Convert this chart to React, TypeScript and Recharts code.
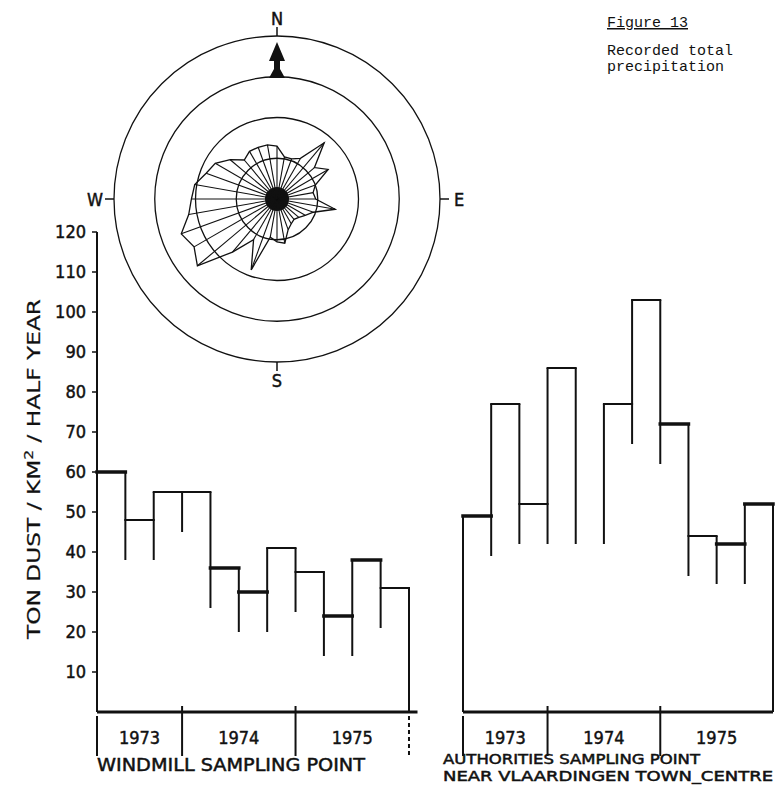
import React from "react";
import {
  ComposedChart,
  Line,
  PolarAngleAxis,
  PolarGrid,
  PolarRadiusAxis,
  Radar,
  RadarChart,
  ReferenceLine,
  XAxis,
  YAxis,
} from "recharts";

// ton dust / km² per half year, one value per quarter (1973 Q2 … 1975 Q4)
const windmillValues = [60, 48, 55, 55, 36, 30, 41, 35, 24, 38, 31];
const authoritiesValues = [49, 77, 52, 86, 52, 77, 103, 72, 44, 42, 52];
const years = ["1973", "1974", "1975"];
const yearStarts = [0, 3, 7];
const quarterCount = 11;
const yTicks = [10, 20, 30, 40, 50, 60, 70, 80, 90, 100, 110, 120];

// wind rose of recorded total precipitation, every 10 degrees from north
const roseBearings = [
  0, 10, 20, 30, 40, 50, 60, 70, 80, 90, 100, 110, 120, 130, 140, 150, 160, 170,
  180, 190, 200, 210, 220, 230, 240, 250, 260, 270, 280, 290, 300, 310, 320, 330, 340, 350,
];
const roseValues = [
  1.3, 1.05, 1.05, 1.15, 1.8, 1.2, 1.45, 1.0, 0.9, 0.95, 1.45, 0.95, 0.8, 0.7, 0.65, 0.7, 0.8, 1.1,
  1.05, 0.95, 1.85, 1.15, 1.7, 2.55, 2.35, 2.5, 2.2, 2.1, 2.05, 1.85, 1.75, 1.5, 1.25, 1.35, 1.35, 1.35,
];
const cardinals: Record<number, string> = { 0: "N", 90: "E", 180: "S", 270: "W" };

const INK = "#111";
const STENCIL = '"DejaVu Sans Condensed", "Liberation Sans Narrow", sans-serif';
const TYPEWRITER = '"Liberation Mono", "Courier New", monospace';
const DROP = 10; // sides of each quarter run 10 units below its top
const ROSE_CX = 200;
const ROSE_CY = 199;

const yearMids = yearStarts.map((s, i) => (s + (yearStarts[i + 1] ?? quarterCount)) / 2);
const roseRows = roseBearings.map((bearing, i) => ({ bearing, r: roseValues[i] }));

const letterStyle = {
  fill: INK,
  stroke: INK,
  strokeWidth: 0.45,
  fontFamily: STENCIL,
  fontSize: 18,
};

function stepLines(values: number[], heavy: number[], hiddenTop: number | null) {
  const out: React.ReactNode[] = [];
  values.forEach((v, i) => {
    if (i === hiddenTop) return;
    out.push(
      <ReferenceLine
        key={`top-${i}`}
        segment={[{ x: i, y: v }, { x: i + 1, y: v }]}
        stroke={INK}
        strokeWidth={heavy.includes(i) ? 3.5 : 2}
        strokeLinecap="square"
        ifOverflow="visible"
      />
    );
  });
  for (let b = 0; b <= values.length; b++) {
    const l = values[b - 1];
    const r = values[b];
    const hi = Math.max(l ?? 0, r ?? 0);
    const lo = l === undefined || r === undefined ? 0 : Math.min(l, r) - DROP;
    out.push(
      <ReferenceLine
        key={`side-${b}`}
        segment={[{ x: b, y: hi }, { x: b, y: lo }]}
        stroke={INK}
        strokeWidth={2}
        ifOverflow="visible"
      />
    );
  }
  return out;
}

function yearSeparators(bounds: number[], dottedAt: number | null) {
  return bounds.map((b) => {
    const edge = b === 0 || b === quarterCount;
    return (
      <ReferenceLine
        key={`sep-${b}`}
        segment={[{ x: b, y: edge ? -1 : 1.5 }, { x: b, y: -11 }]}
        stroke={INK}
        strokeWidth={2}
        strokeDasharray={b === dottedAt ? "4 3" : undefined}
        ifOverflow="visible"
      />
    );
  });
}

function YearTick(props: any) {
  const { x, y, payload, index } = props;
  const i = index ?? yearMids.indexOf(payload?.value);
  return (
    <text x={x} y={y + 32} textAnchor="middle" {...letterStyle}>
      {years[i]}
    </text>
  );
}

function RoseSpoke(props: any) {
  const { cx, cy, index, payload } = props;
  const ox = payload?.cx ?? ROSE_CX;
  const oy = payload?.cy ?? ROSE_CY;
  return (
    <g key={`spoke-${index}`}>
      <line x1={ox} y1={oy} x2={cx} y2={cy} stroke={INK} strokeWidth={1.1} />
      {index === 0 && <circle cx={ox} cy={oy} r={12} fill={INK} />}
    </g>
  );
}

function RoseTick(props: any) {
  const { x, y, payload } = props;
  const label = cardinals[payload?.value];
  if (!label) return <g />;
  const len = Math.hypot(x - ROSE_CX, y - ROSE_CY) || 1;
  const ux = (x - ROSE_CX) / len;
  const uy = (y - ROSE_CY) / len;
  return (
    <g>
      <line
        x1={ROSE_CX + ux * 163}
        y1={ROSE_CY + uy * 163}
        x2={ROSE_CX + ux * 172}
        y2={ROSE_CY + uy * 172}
        stroke={INK}
        strokeWidth={1.5}
      />
      <text
        x={ROSE_CX + ux * 182}
        y={ROSE_CY + uy * 181}
        textAnchor="middle"
        dominantBaseline="central"
        {...letterStyle}
      >
        {label}
      </text>
      {label === "N" && (
        <path
          transform={`translate(${ROSE_CX},${ROSE_CY})`}
          d="M0,-157 L8,-138 L3,-138 L3,-130 L8,-121 L-8,-121 L-3,-130 L-3,-138 L-8,-138 Z"
          fill={INK}
        />
      )}
    </g>
  );
}

function WindRose() {
  return (
    <div style={{ position: "absolute", left: 77, top: 0 }}>
      <RadarChart
        width={400}
        height={400}
        cx={ROSE_CX}
        cy={ROSE_CY}
        outerRadius={163}
        data={roseRows}
        margin={{ top: 0, right: 0, bottom: 0, left: 0 }}
      >
        <PolarGrid gridType="circle" radialLines={false} stroke={INK} strokeWidth={1.3} />
        <PolarRadiusAxis domain={[0, 4]} tickCount={5} tick={false} axisLine={false} />
        <PolarAngleAxis dataKey="bearing" tick={RoseTick} tickLine={false} axisLine={false} />
        <Radar
          dataKey="r"
          stroke={INK}
          strokeWidth={1.3}
          fill="none"
          fillOpacity={0}
          dot={RoseSpoke}
          isAnimationActive={false}
        />
      </RadarChart>
    </div>
  );
}

function WindmillPanel() {
  const rows = windmillValues.map((value, i) => ({ q: i + 0.5, value }));
  return (
    <div style={{ position: "absolute", left: 0, top: 0 }}>
      <ComposedChart
        width={430}
        height={787}
        data={rows}
        margin={{ top: 232, right: 12.5, bottom: 45, left: 37 }}
      >
        <XAxis
          type="number"
          dataKey="q"
          domain={[0, 11.3]}
          ticks={yearMids}
          interval={0}
          tick={YearTick}
          tickLine={false}
          tickSize={0}
          tickMargin={0}
          height={30}
          axisLine={{ stroke: INK, strokeWidth: 3 }}
        />
        <YAxis
          type="number"
          domain={[0, 120]}
          ticks={yTicks}
          interval={0}
          width={60}
          tickSize={5}
          tickMargin={6}
          axisLine={{ stroke: INK, strokeWidth: 2 }}
          tickLine={{ stroke: INK, strokeWidth: 1.5 }}
          tick={letterStyle}
        />
        {/* carries the y scale; the outline itself is drawn by the reference lines */}
        <Line
          dataKey="value"
          stroke="none"
          dot={false}
          activeDot={false}
          legendType="none"
          isAnimationActive={false}
        />
        {stepLines(windmillValues, [0, 4, 5, 8, 9], null)}
        {yearSeparators([...yearStarts, quarterCount], quarterCount)}
      </ComposedChart>
    </div>
  );
}

function AuthoritiesPanel() {
  const rows = authoritiesValues.map((value, i) => ({ q: i + 0.5, value }));
  return (
    <div style={{ position: "absolute", left: 440, top: 0 }}>
      <ComposedChart
        width={335}
        height={787}
        data={rows}
        margin={{ top: 232, right: 2, bottom: 45, left: 23 }}
      >
        <XAxis
          type="number"
          dataKey="q"
          domain={[0, quarterCount]}
          ticks={yearMids}
          interval={0}
          tick={YearTick}
          tickLine={false}
          tickSize={0}
          tickMargin={0}
          height={30}
          axisLine={{ stroke: INK, strokeWidth: 3 }}
        />
        <YAxis type="number" domain={[0, 120]} hide />
        <Line
          dataKey="value"
          stroke="none"
          dot={false}
          activeDot={false}
          legendType="none"
          isAnimationActive={false}
        />
        {/* the 1974 Q2 top was not printed in the source */}
        {stepLines(authoritiesValues, [0, 7, 9, 10], 4)}
        {yearSeparators(yearStarts, null)}
      </ComposedChart>
    </div>
  );
}

function Captions() {
  return (
    <svg
      width={775}
      height={787}
      style={{ position: "absolute", left: 0, top: 0, pointerEvents: "none" }}
    >
      <text x={607} y={27} fontFamily={TYPEWRITER} fontSize={15} fill={INK} textDecoration="underline">
        Figure 13
      </text>
      <text x={607} y={55} fontFamily={TYPEWRITER} fontSize={15} fill={INK}>
        Recorded total
      </text>
      <text x={607} y={71} fontFamily={TYPEWRITER} fontSize={15} fill={INK}>
        precipitation
      </text>
      <text
        transform="translate(40,469) rotate(-90)"
        textAnchor="middle"
        textLength={340}
        lengthAdjust="spacingAndGlyphs"
        {...letterStyle}
        strokeWidth={0.2}
      >
        TON DUST / KM<tspan baselineShift="super" fontSize={12}>2</tspan> / HALF YEAR
      </text>
      <text x={97} y={771} textLength={268} lengthAdjust="spacingAndGlyphs" {...letterStyle}>
        WINDMILL  SAMPLING  POINT
      </text>
      <text
        x={443}
        y={764}
        textLength={257}
        lengthAdjust="spacingAndGlyphs"
        {...letterStyle}
        fontSize={14}
      >
        AUTHORITIES  SAMPLING  POINT
      </text>
      <text
        x={443}
        y={781}
        textLength={330}
        lengthAdjust="spacingAndGlyphs"
        {...letterStyle}
        fontSize={14}
      >
        NEAR VLAARDINGEN TOWN_CENTRE
      </text>
    </svg>
  );
}

export default function App() {
  return (
    <div
      style={{
        position: "absolute",
        left: 0,
        top: 0,
        width: 775,
        height: 787,
        background: "#fff",
        overflow: "hidden",
      }}
    >
      <WindRose />
      <WindmillPanel />
      <AuthoritiesPanel />
      <Captions />
    </div>
  );
}
